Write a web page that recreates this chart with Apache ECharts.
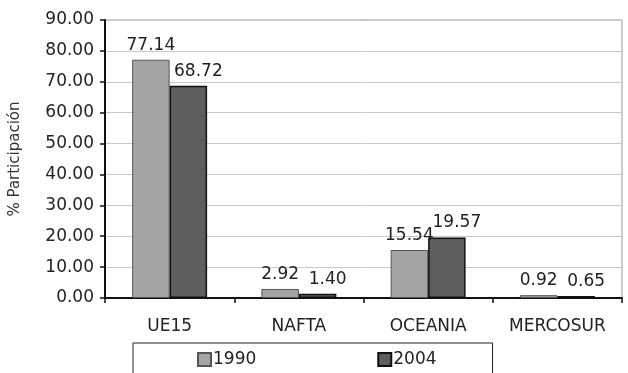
<!DOCTYPE html>
<html>
<head>
<meta charset="utf-8">
<script src="https://cdn.jsdelivr.net/npm/echarts@6/dist/echarts.min.js"></script>
<style>html,body{margin:0;padding:0;background:#fff;}#c{width:628px;height:373px;}</style>
</head>
<body>
<div id="c"></div>
<script>
var categories = ['UE15', 'NAFTA', 'OCEANIA', 'MERCOSUR'];
var values1990 = [77.14, 2.92, 15.54, 0.92];
var values2004 = [68.72, 1.40, 19.57, 0.65];
var seriesNames = ['1990', '2004'];
var yAxisTitle = '% Participación';

var chart = echarts.init(document.getElementById('c'), null, {renderer: 'canvas'});
var font = 'DejaVu Sans, sans-serif';
function labelCfg(dx) {
  return {
    show: true, position: 'top', distance: 6, offset: [dx, 0],
    color: '#222', fontFamily: font, fontSize: 17,
    formatter: function (p) { return p.value.toFixed(2); }
  };
}
chart.setOption({
  animation: false,
  backgroundColor: '#fff',
  grid: {left: 104, right: 6, top: 20, bottom: 75, show: true, borderColor: '#999', borderWidth: 1},
  legend: {
    data: seriesNames,
    left: 133, top: 343,
    padding: [8, 56, 20, 64],
    itemGap: 121,
    itemWidth: 13, itemHeight: 13,
    borderColor: '#222', borderWidth: 1,
    textStyle: {fontFamily: font, fontSize: 17, color: '#222', padding: [0, 0, 0, -3]},
    icon: 'rect'
  },
  xAxis: {
    type: 'category',
    data: categories,
    axisLine: {lineStyle: {color: '#111', width: 2}},
    axisTick: {show: true, length: 5, lineStyle: {color: '#111', width: 1.5}},
    axisLabel: {color: '#222', fontFamily: font, fontSize: 17, margin: 20}
  },
  yAxis: {
    type: 'value',
    min: 0, max: 90, interval: 10,
    name: yAxisTitle,
    nameLocation: 'middle',
    nameGap: 82,
    nameRotate: 90,
    nameTextStyle: {color: '#333', fontFamily: font, fontSize: 15},
    axisLine: {show: true, lineStyle: {color: '#111', width: 2}},
    axisTick: {show: true, length: 5, lineStyle: {color: '#111', width: 1.5}},
    axisLabel: {color: '#222', fontFamily: font, fontSize: 17, margin: 11,
      formatter: function (v) { return v.toFixed(2); }},
    splitLine: {lineStyle: {color: '#c8c8c8', width: 1}}
  },
  series: [
    {
      name: seriesNames[0], type: 'bar', data: values1990,
      barGap: '0%', barCategoryGap: '42%',
      itemStyle: {color: '#a4a4a4', borderColor: '#555', borderWidth: 1},
      label: labelCfg(0)
    },
    {
      name: seriesNames[1], type: 'bar', data: values2004,
      itemStyle: {color: '#5e5e5e', borderColor: '#111', borderWidth: 1.5},
      label: labelCfg(10)
    }
  ]
});
</script>
</body>
</html>
